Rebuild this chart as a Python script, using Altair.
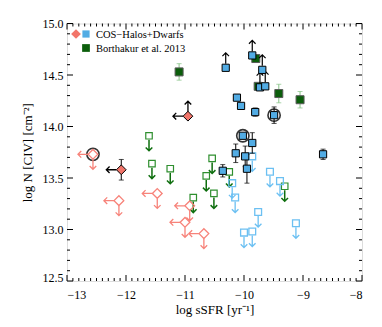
import altair as alt
import pandas as pd
import numpy as np

# ---------------- data ----------------
# Dwarfs: filled diamonds (sSFR upper limit; first one also N lower limit)
dw_det_x = [-10.95, -12.08]
dw_det_y = [14.10, 13.58]
dw_det_err = [0.00, 0.10]
dw_det_nlow = [True, False]
# Dwarfs: open diamonds (upper limits in both)
dw_lim_x = [-12.56, -12.12, -11.47, -10.92, -11.00, -10.68]
dw_lim_y = [13.73, 13.28, 13.35, 13.23, 13.07, 12.96]

# Borthakur et al. 2013
b13_det_x = [-11.10, -9.80, -9.76, -9.41, -9.05]
b13_det_y = [14.53, 14.66, 14.39, 14.32, 14.26]
b13_det_err = [0.08, 0.00, 0.00, 0.09, 0.08]
b13_lim_x = [-11.61, -11.56, -11.25, -10.86, -10.64, -10.54, -10.51, -10.25, -9.31]
b13_lim_y = [13.91, 13.64, 13.59, 13.31, 13.52, 13.69, 13.35, 13.56, 13.42]

# COS-Halos
cos_sat_x = [-10.31, -9.86, -9.69, -9.73, -9.64]
cos_sat_y = [14.57, 14.69, 14.55, 14.38, 14.39]
cos_det_x = [-10.12, -10.05, -9.81, -9.49, -10.02, -9.86, -10.14, -9.98, -8.66, -10.36, -9.95]
cos_det_y = [14.28, 14.20, 14.14, 14.11, 13.91, 13.84, 13.74, 13.71, 13.73, 13.57, 13.59]
cos_det_err = [0.00, 0.00, 0.04, 0.08, 0.00, 0.10, 0.09, 0.10, 0.05, 0.06, 0.14]
cos_lim_x = [-9.86, -9.56, -9.39, -10.20, -10.15, -9.76, -10.00, -9.86, -9.12]
cos_lim_y = [13.71, 13.56, 13.47, 13.45, 13.31, 13.17, 12.97, 12.98, 13.06]

# circled systems
circ_x = [-12.56, -10.02, -9.49]
circ_y = [13.73, 13.91, 14.11]

# axis ticks
x_major = [-13, -12, -11, -10, -9, -8]
y_major = [12.5, 13.0, 13.5, 14.0, 14.5, 15.0]
x_minor = [round(v, 1) for v in np.arange(-13, -7.95, 0.1) if abs(v - round(v)) > 1e-6]
y_minor = [round(v, 1) for v in np.arange(12.5, 15.05, 0.1) if abs(v * 2 - round(v * 2)) > 1e-6]

legend_labels = ["COS\u2212Halos+Dwarfs", "Borthakur et al. 2013"]

# ---------------- styling ----------------
W, H = 295, 257.5
FONT = "Liberation Serif, serif"
PINK = "#F7837A"
PINK_F = "#F2756A"
BLUE = "#52ACE4"
LBLUE = "#6CC0F2"
DGREEN = "#0B5E0B"
OGREEN = "#2F8F2F"
AGREEN = "#0E6E0E"
EGREEN = "#86C286"

DOWN = "M0,0.27L0,1M-0.22,0.78L0,1L0.22,0.78"
UP = "M0,-0.27L0,-1M-0.22,-0.78L0,-1L0.22,-0.78"
LEFT = "M-0.33,0L-1,0M-0.78,-0.22L-1,0L-0.78,0.22"
DOWN_D = "M0,0.33L0,1M-0.22,0.78L0,1L0.22,0.78"
AR = 900

xs = alt.Scale(domain=[-13, -8], nice=False, zero=False)
ys = alt.Scale(domain=[12.5, 15.0], nice=False, zero=False)
xaxis = alt.Axis(values=x_major, format="d", ticks=False, domain=False, grid=False,
                 labelFont=FONT, labelFontSize=12, labelPadding=8, labelColor="black",
                 title="log sSFR [yr\u207b\u00b9]", titleFont=FONT, titleFontSize=13,
                 titleFontWeight="normal", titleColor="black", titleY=32, titleBaseline="alphabetic")
yaxis = alt.Axis(values=y_major, format=".1f", ticks=False, domain=False, grid=False,
                 labelFont=FONT, labelFontSize=12, labelPadding=4, labelColor="black",
                 labelOffset={"condition": {"test": "datum.value == 12.5", "value": -4}, "value": 0},
                 title="log N [CIV] [cm\u207b\u00b2]", titleFont=FONT, titleFontSize=13,
                 titleFontWeight="normal", titleColor="black", titleX=-36, titleY=H / 2,
                 titleBaseline="alphabetic", titleAngle=270)

X = alt.X("x:Q", scale=xs, axis=xaxis)
Y = alt.Y("y:Q", scale=ys, axis=yaxis)


def df(x, y, **kw):
    d = pd.DataFrame({"x": x, "y": y})
    for k, v in kw.items():
        d[k] = v
    return d


def errbars(x, y, err, color, width=1.0):
    d = df(x, y, err=err)
    d = d[d.err > 0].copy()
    d["lo"] = d.y - d.err
    d["hi"] = d.y + d.err
    caps = pd.concat([d[["x", "lo"]].rename(columns={"lo": "y"}),
                      d[["x", "hi"]].rename(columns={"hi": "y"})])
    r = alt.Chart(d).mark_rule(color=color, strokeWidth=width).encode(
        x=X, y=alt.Y("lo:Q", scale=ys, axis=yaxis), y2="hi:Q")
    c = alt.Chart(caps).mark_tick(orient="horizontal", size=5, thickness=width, color=color).encode(x=X, y=Y)
    return [r, c]


def arrows(data, path, color, width=1.2):
    return alt.Chart(data).mark_point(shape=path, size=AR, filled=False, stroke=color,
                                      strokeWidth=width, opacity=1).encode(x=X, y=Y)


layers = []

# ---- axis ticks (inward, all four sides) ----
for vals, ln in [(x_major, 6), (x_minor, 3)]:
    t = pd.DataFrame({"x": vals})
    layers.append(alt.Chart(t).mark_rule(color="black", strokeWidth=1).encode(
        x=X, y=alt.value(H), y2=alt.value(H - ln)))
    layers.append(alt.Chart(t).mark_rule(color="black", strokeWidth=1).encode(
        x=X, y=alt.value(0), y2=alt.value(ln)))
for vals, ln in [(y_major, 6), (y_minor, 3)]:
    t = pd.DataFrame({"y": vals})
    layers.append(alt.Chart(t).mark_rule(color="black", strokeWidth=1).encode(
        y=Y, x=alt.value(0), x2=alt.value(ln)))
    layers.append(alt.Chart(t).mark_rule(color="black", strokeWidth=1).encode(
        y=Y, x=alt.value(W), x2=alt.value(W - ln)))

# ---- circles ----
layers.append(alt.Chart(df(circ_x, circ_y)).mark_point(shape="circle", size=150, filled=False,
                                                       stroke="#333333", strokeWidth=1.6, opacity=1).encode(x=X, y=Y))

# ---- Borthakur upper limits ----
b13l = df(b13_lim_x, b13_lim_y)
layers.append(arrows(b13l, DOWN, AGREEN, 1.5))
layers.append(alt.Chart(b13l).mark_point(shape="square", size=42, filled=False, stroke=OGREEN,
                                         strokeWidth=1.2, opacity=1).encode(x=X, y=Y))
# ---- Borthakur detections ----
layers += errbars(b13_det_x, b13_det_y, b13_det_err, EGREEN, 1.0)
layers.append(alt.Chart(df(b13_det_x, b13_det_y)).mark_point(shape="square", size=64, filled=True,
                                                             fill=DGREEN, stroke="#5a5a5a", strokeWidth=1,
                                                             opacity=1).encode(x=X, y=Y))

# ---- COS-Halos upper limits ----
cl = df(cos_lim_x, cos_lim_y)
layers.append(arrows(cl, DOWN, LBLUE, 1.3))
layers.append(alt.Chart(cl).mark_point(shape="square", size=46, filled=False, stroke=LBLUE,
                                       strokeWidth=1.3, opacity=1).encode(x=X, y=Y))

# ---- COS-Halos detections ----
layers += errbars(cos_det_x, cos_det_y, cos_det_err, "black", 1.0)
cs = df(cos_sat_x, cos_sat_y)
layers.append(arrows(cs, UP, "black", 1.2))
cd = pd.concat([cs, df(cos_det_x, cos_det_y)])
layers.append(alt.Chart(cd).mark_point(shape="square", size=52, filled=True, fill=BLUE,
                                       stroke="black", strokeWidth=1, opacity=1).encode(x=X, y=Y))

# ---- Dwarfs upper limits ----
dl = df(dw_lim_x, dw_lim_y)
layers.append(arrows(dl, LEFT, PINK, 1.3))
layers.append(arrows(dl, DOWN_D, PINK, 1.3))
layers.append(alt.Chart(dl).mark_point(shape="diamond", size=95, filled=False, stroke=PINK,
                                       strokeWidth=1.3, opacity=1).encode(x=X, y=Y))

# ---- Dwarfs detections ----
dd = df(dw_det_x, dw_det_y, nlow=dw_det_nlow)
layers += errbars(dw_det_x, dw_det_y, dw_det_err, "black", 1.0)
layers.append(arrows(dd, LEFT, "black", 1.3))
layers.append(arrows(dd[dd.nlow], UP, "black", 1.3))
layers.append(alt.Chart(dd).mark_point(shape="diamond", size=95, filled=True, fill=PINK_F,
                                       stroke="black", strokeWidth=1, opacity=1).encode(x=X, y=Y))

# ---- legend ----
leg = pd.DataFrame({"label": legend_labels})
layers.append(alt.Chart(leg.iloc[[0]]).mark_point(shape="diamond", size=95, filled=True, fill=PINK_F,
                                                  strokeWidth=0, opacity=1).encode(x=alt.value(9), y=alt.value(10.5)))
layers.append(alt.Chart(leg.iloc[[0]]).mark_point(shape="square", size=52, filled=True, fill=BLUE,
                                                  strokeWidth=0, opacity=1).encode(x=alt.value(19), y=alt.value(10.5)))
layers.append(alt.Chart(leg.iloc[[1]]).mark_point(shape="square", size=60, filled=True, fill=DGREEN,
                                                  strokeWidth=0, opacity=1).encode(x=alt.value(19), y=alt.value(24.5)))
layers.append(alt.Chart(leg.iloc[[0]]).mark_text(align="left", baseline="middle", font=FONT, fontSize=10.5,
                                                 color="black").encode(x=alt.value(29), y=alt.value(11), text="label:N"))
layers.append(alt.Chart(leg.iloc[[1]]).mark_text(align="left", baseline="middle", font=FONT, fontSize=10.5,
                                                 color="black").encode(x=alt.value(29), y=alt.value(25), text="label:N"))

chart = alt.layer(*layers).properties(
    width=W, height=H,
    padding={"left": 59, "top": 15.5, "right": 12, "bottom": 38},
    autosize=alt.AutoSizeParams(type="none"),
).configure_view(stroke="black", strokeWidth=1.2).configure(font=FONT, background="white")

chart.save("out.html", embed_options={"renderer": "svg", "actions": False})
